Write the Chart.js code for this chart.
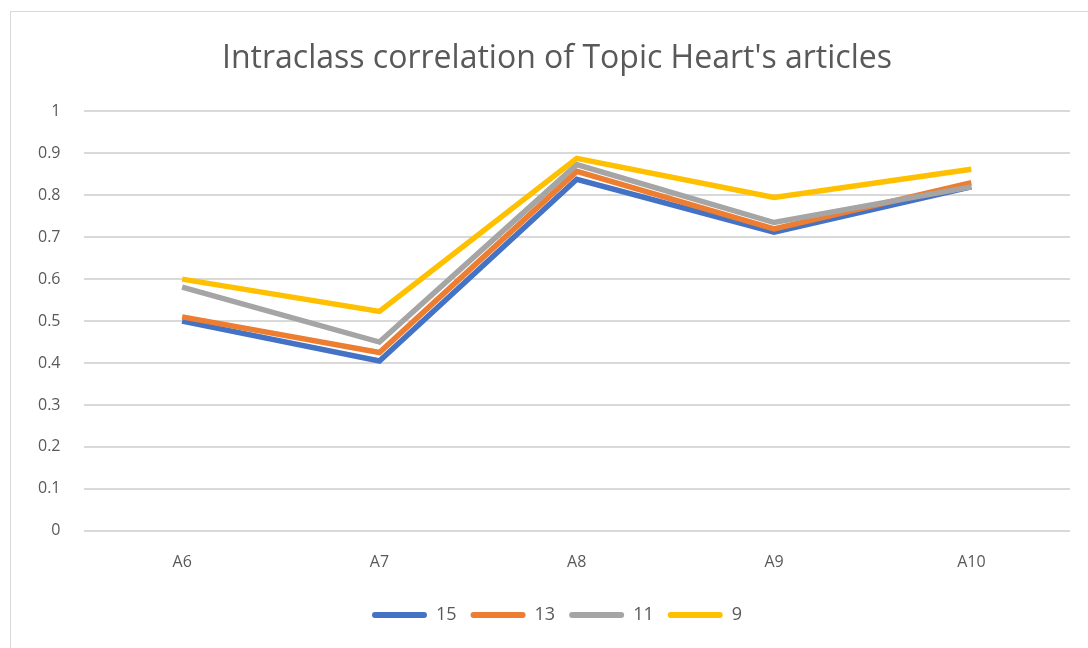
<!DOCTYPE html>
<html>
<head>
<meta charset="utf-8">
<script src="https://cdn.jsdelivr.net/npm/chart.js@4"></script>
<style>
  body { margin: 0; background: #fff; overflow: hidden; }
  #box {
    position: absolute; left: 10px; top: 11px;
    width: 1110px; height: 650px;
    border: 1px solid #d9d9d9; box-sizing: border-box;
  }
  #wrap { position: absolute; left: 0; top: 0; width: 1092px; height: 636px; }
</style>
</head>
<body>
<div id="box"><div id="wrap"><canvas id="iccChart"></canvas></div></div>
<script>
// Dados
const categories = ['A6', 'A7', 'A8', 'A9', 'A10'];
const seriesNames = ['15', '13', '11', '9'];
const values15 = [0.50, 0.405, 0.838, 0.712, 0.82];
const values13 = [0.51, 0.425, 0.857, 0.72, 0.83];
const values11 = [0.581, 0.45, 0.873, 0.735, 0.82];
const values9 = [0.60, 0.523, 0.888, 0.795, 0.862];
const seriesColors = ['#4472C4', '#ED7D31', '#A5A5A5', '#FFC000'];

const allValues = [values15, values13, values11, values9];
const textColor = '#595959';
const fontFamily = "'Open Sans', 'Liberation Sans', sans-serif";

const ctx = document.getElementById('iccChart').getContext('2d');
const iccChart = new Chart(ctx, {
    type: 'line',
    data: {
        labels: categories,
        datasets: seriesNames.map((name, i) => ({
            label: name,
            data: allValues[i],
            borderColor: seriesColors[i],
            backgroundColor: seriesColors[i],
            borderWidth: 5.5,
            pointRadius: 0,
            tension: 0,
            fill: false,
            // última série desenhada por cima, como no Excel
            order: seriesNames.length - i
        }))
    },
    options: {
        responsive: true,
        maintainAspectRatio: false,
        animation: false,
        layout: { padding: { left: 4, right: 4, top: 14, bottom: 14 } },
        scales: {
            x: {
                offset: true,
                grid: { display: false },
                border: { display: false },
                ticks: { color: textColor, font: { family: fontFamily, size: 16 }, padding: 14 },
                afterFit: (scale) => { scale.height += 6; }
            },
            y: {
                min: 0,
                max: 1,
                ticks: {
                    stepSize: 0.1,
                    color: textColor,
                    font: { family: fontFamily, size: 16 },
                    padding: 23,
                    callback: (value) => String(Number(value.toFixed(1)))
                },
                grid: { color: '#d9d9d9', lineWidth: 2, drawTicks: false },
                border: { display: false }
            },
            // eixo vazio à direita, só para reservar espaço
            yRight: {
                position: 'right',
                min: 0,
                max: 1,
                grid: { display: false },
                border: { display: false },
                ticks: { display: false },
                afterFit: (scale) => { scale.width = 29; }
            }
        },
        plugins: {
            title: {
                display: true,
                text: "Intraclass correlation of Topic Heart's articles",
                color: textColor,
                font: { family: fontFamily, size: 32, weight: 'normal' },
                padding: { top: 14, bottom: 33 }
            },
            legend: {
                position: 'bottom',
                labels: {
                    color: textColor,
                    font: { family: fontFamily, size: 18 },
                    boxWidth: 55,
                    boxHeight: 6,
                    padding: 14,
                    sort: (a, b) => a.datasetIndex - b.datasetIndex,
                    generateLabels: (chart) => {
                        const items = Chart.defaults.plugins.legend.labels.generateLabels(chart);
                        items.forEach(item => {
                            item.lineWidth = 0;
                            item.borderRadius = 3;
                        });
                        return items;
                    }
                }
            },
            tooltip: { enabled: false }
        }
    }
});
</script>
</body>
</html>
